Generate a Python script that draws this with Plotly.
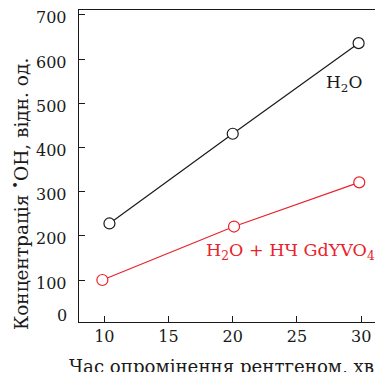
import plotly.graph_objects as go

# Data
water_x = [10.4, 20.0, 29.8]
water_y = [228, 431, 636]
nano_x = [9.85, 20.1, 29.85]
nano_y = [100, 221, 321]

x_ticks = [10, 15, 20, 25, 30]
y_ticks = [0, 100, 200, 300, 400, 500, 600, 700]

FONT = "DejaVu Serif"
BLACK = "#1a1a1a"
RED = "#e8232b"

fig = go.Figure()
fig.add_trace(go.Scatter(
    x=water_x, y=water_y, mode="lines+markers",
    line=dict(color=BLACK, width=1.2),
    marker=dict(symbol="circle", size=11, color="white", line=dict(color=BLACK, width=1.2)),
    showlegend=False, cliponaxis=False))
fig.add_trace(go.Scatter(
    x=nano_x, y=nano_y, mode="lines+markers",
    line=dict(color=RED, width=1.2),
    marker=dict(symbol="circle", size=11, color="white", line=dict(color=RED, width=1.2)),
    showlegend=False, cliponaxis=False))

# y tick labels, drawn slightly below their ticks as in the reference
ylabel_ann = []
for v in y_ticks:
    shift = 7 if v == 0 else -3
    ylabel_ann.append(dict(text=str(v), xref="paper", yref="y", x=0, y=max(v, 5),
                           xanchor="right", yanchor="middle", xshift=-10, yshift=shift,
                           showarrow=False, font=dict(family=FONT, size=16, color=BLACK)))

# page body has an 8px margin, so the figure is shrunk by that offset
fig.update_layout(
    width=375, height=364,
    margin=dict(l=71, r=0, t=2, b=50),
    paper_bgcolor="white", plot_bgcolor="white",
    font=dict(family=FONT, size=16, color=BLACK),
    xaxis=dict(
        range=[8.03, 31.7], tickvals=x_ticks, ticks="inside", ticklen=6,
        tickcolor=BLACK, showline=True, linecolor=BLACK, linewidth=1.2,
        mirror=True, showgrid=False, zeroline=False, automargin=False,
        tickfont=dict(family=FONT, size=16),
    ),
    yaxis=dict(
        range=[5, 711], tickvals=[v for v in y_ticks if v > 0], ticks="inside", ticklen=6,
        tickcolor=BLACK, showline=True, linecolor=BLACK, linewidth=1.2,
        showgrid=False, zeroline=False, automargin=False, showticklabels=False,
    ),
    annotations=ylabel_ann + [
        dict(text="Час опромінення рентгеном, хв", xref="paper", yref="paper",
             x=0.468, y=0, xanchor="center", yanchor="middle", yshift=-44,
             showarrow=False, font=dict(family=FONT, size=18.2, color=BLACK)),
        dict(text="Концентрація <sup>•</sup>OH, відн. од.", xref="paper", yref="paper",
             x=-0.194, y=0.41, xanchor="center", yanchor="middle", textangle=-90,
             showarrow=False, font=dict(family=FONT, size=18.5, color=BLACK)),
        dict(text="H<sub>2</sub>O", xref="x", yref="y", x=30.2, y=545,
             xanchor="right", yanchor="middle", showarrow=False,
             font=dict(family=FONT, size=17, color=BLACK)),
        dict(text="H<sub>2</sub>O + НЧ GdYVO<sub>4</sub>", xref="x", yref="y", x=31.2, y=164,
             xanchor="right", yanchor="middle", showarrow=False,
             font=dict(family=FONT, size=17.5, color=RED)),
    ],
)

fig.write_html("out.html")
